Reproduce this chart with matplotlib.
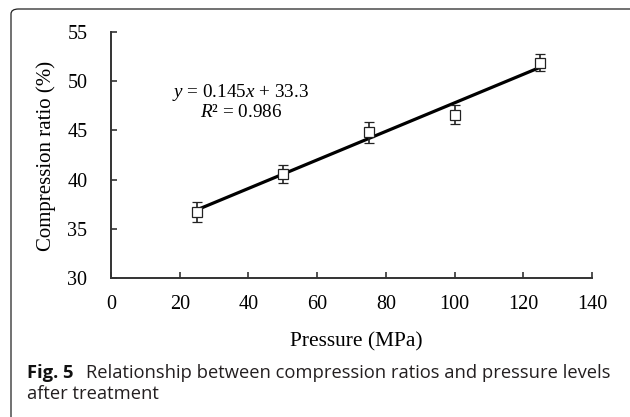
import matplotlib
matplotlib.use("Agg")
import matplotlib.pyplot as plt
from matplotlib.patches import FancyBboxPatch
import numpy as np

# Data
pressure = [25, 50, 75, 100, 125]
ratio = [36.7, 40.6, 44.8, 46.6, 51.9]
err = [1.05, 0.9, 1.05, 1.0, 0.9]
slope = 0.145
intercept = 33.3
xticks = [0, 20, 40, 60, 80, 100, 120, 140]
yticks = [30, 35, 40, 45, 50, 55]

plt.rcParams['mathtext.fontset'] = 'custom'
plt.rcParams['mathtext.rm'] = 'Liberation Serif'
plt.rcParams['mathtext.it'] = 'Liberation Serif:italic'

W, H = 630, 417
fig = plt.figure(figsize=(6.3, 4.17), dpi=100)
ax = fig.add_axes([111/W, 1-278/H, (592-111)/W, (278-32)/H])

serif = 'Liberation Serif'
fit_x = np.array([pressure[0], pressure[-1]])
ax.plot(fit_x, slope*fit_x + intercept, color='black', lw=2.3, zorder=2)
ax.errorbar(pressure, ratio, yerr=err, fmt='s', mfc='white', mec='#222222',
            mew=0.9, ms=7, ecolor='#222222', elinewidth=1.2, capsize=3.5,
            capthick=1.2, zorder=3)

ax.set_xlim(0, 140)
ax.set_ylim(30, 55)
ax.set_xticks(xticks)
ax.set_yticks(yticks)
ax.tick_params(direction='in', length=4, width=1.2, color='#333333',
               labelsize=14.5)
ax.tick_params(axis='x', pad=12)
ax.tick_params(axis='y', pad=17)
for lab in ax.get_xticklabels() + ax.get_yticklabels():
    lab.set_fontfamily(serif)
for s in ['top', 'right']:
    ax.spines[s].set_visible(False)
for s in ['left', 'bottom']:
    ax.spines[s].set_linewidth(1.4)
    ax.spines[s].set_color('#333333')

ax.set_xlabel('Pressure (MPa)', fontfamily=serif, fontsize=15.4)
ax.xaxis.set_label_coords((356-111)/481, (278-342)/246)
ax.set_ylabel('Compression ratio (%)', fontfamily=serif, fontsize=15)
ax.yaxis.set_label_coords((46-111)/481, (278-156)/246)
ax.xaxis.label.set_va('center')
ax.yaxis.label.set_va('center')

ax.text(0.27, 0.756, '$y$ = 0.145$x$ + 33.3', transform=ax.transAxes,
        ha='center', va='center', fontfamily=serif, fontsize=13.8)
ax.text(0.27, 0.671, '$R$² = 0.986', transform=ax.transAxes,
        ha='center', va='center', fontfamily=serif, fontsize=13.8)

# Border
box = FancyBboxPatch((11/W, -0.05), 640/W - 11/W, 1 - 9/H + 0.05,
                     boxstyle='round,pad=0,rounding_size=0.012',
                     transform=fig.transFigure, fill=False,
                     edgecolor='#222222', lw=0.9, clip_on=False)
fig.patches.append(box)

# Caption
t1 = fig.text(27/W, 1-378/H, 'Fig. 5', fontfamily='Open Sans', fontweight='bold',
              fontsize=13.2, va='baseline', ha='left', color='#111111')
fig.canvas.draw()
bb = t1.get_window_extent()
fig.text((bb.x1 + 12)/W, 1-378/H,
         'Relationship between compression ratios and pressure levels',
         fontfamily='Open Sans', fontsize=13.2, va='baseline', ha='left', color='#231f20')
fig.text(27/W, 1-399/H, 'after treatment', fontfamily='Open Sans',
         fontsize=13.2, va='baseline', ha='left', color='#231f20')

fig.savefig('out.png', dpi=100)
